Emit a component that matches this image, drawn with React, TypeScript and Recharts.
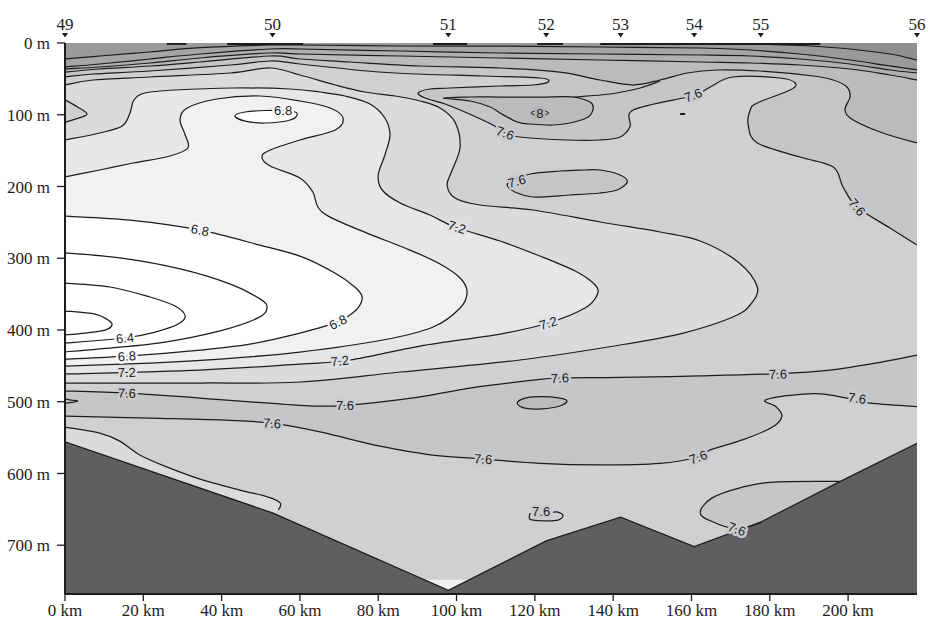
import React from "react";
import { ScatterChart, Scatter, XAxis, YAxis } from "recharts";

type Pt = [number, number]; // [distance km, depth m]
type XY = { x: number; y: number };

const KM_MAX = 217.6;
const DEPTH_MAX = 768;

const stationKm = [0, 53, 97.9, 122.9, 141.9, 160.7, 177.7, 217.6];
const stationNames = ["49", "50", "51", "52", "53", "54", "55", "56"];
const kmTicks = [0, 20, 40, 60, 80, 100, 120, 140, 160, 180, 200];
const depthTicks = [0, 100, 200, 300, 400, 500, 600, 700];

// bottom profile
const seafloor: Pt[] = [[0, 556], [53, 655], [97.9, 763], [122.9, 694], [141.9, 661], [160.7, 702], [178, 667], [198, 611], [217.6, 558]];

// near-surface isotherms
const iso86: Pt[] = [[217.6, 23.7], [210.7, 15.3], [200.5, 8.4], [190.3, 4.2], [180.1, 2.1], [169.9, 0]];
const iso84: Pt[] = [[0, 22.3], [8.9, 18.1], [21.7, 12.5], [34.5, 6.6], [52.4, 2.8], [60, 2.8], [85.6, 4.2], [111.1, 4.2], [136.7, 5.6], [162.2, 7], [175, 9.8], [187.7, 15.3], [200.5, 23.7], [210.7, 32.1], [217.6, 37.6]];
const iso82: Pt[] = [[0, 33.5], [8.9, 29.3], [21.7, 22.3], [34.5, 15.3], [52.4, 8.4], [60, 8.4], [85.6, 11.2], [111.1, 13.9], [136.7, 15.3], [162.2, 16.7], [175, 18.1], [187.7, 22.3], [200.5, 29.3], [210.7, 37.6], [217.6, 41.8]];
const iso80: Pt[] = [[0, 36.2], [8.9, 33.5], [21.7, 27.9], [34.5, 20.9], [52.4, 13.9], [60, 15.3], [85.6, 18.1], [111.1, 20.9], [136.7, 23.7], [162.2, 26.5], [175, 27.9], [187.7, 30.7], [200.5, 36.2], [210.7, 44.6], [217.6, 51.6]];
const iso78: Pt[] = [[217.6, 139.4], [208.9, 125.5], [201.3, 107.3], [199.2, 93.4], [200.5, 75.3], [199.7, 61.3], [196.2, 51.6], [191.1, 46], [177.5, 39], [166.5, 37.6], [158.9, 41.8], [152, 51.6], [145.1, 58.5], [136.7, 51.6], [126.4, 40.5], [111.1, 34.9], [90.7, 32.1], [72.8, 26.5], [60, 22.3], [52.4, 18.1], [34.5, 26.5], [21.7, 32.1], [8.9, 36.2], [0, 40.5]];
const iso78Loop: Pt[] = [[96.6, 76.7], [103.5, 75.3], [111.1, 75.3], [121.3, 75.3], [129.8, 75.3], [134.1, 82.3], [134.9, 90.6], [133.6, 103.1], [129, 111.5], [124.7, 114.3], [118.8, 112.9], [115.5, 110.1], [111.1, 97.6], [108.6, 89.2], [103.5, 80.9]];
const iso78Link: Pt[] = [[129.8, 75.3], [139.2, 71.1], [146.9, 62.7], [152, 53]];
const iso80Ring: Pt[] = [[119, 97.6], [121.3, 93.5], [123.6, 97.6], [121.3, 101.8]];
const iso76: Pt[] = [[217.6, 281.6], [210.7, 257.9], [202.3, 228.6], [198.7, 200.7], [196.2, 172.9], [187.7, 158.9], [176.8, 139.4], [174.5, 114.3], [175, 93.4], [176.8, 83.6], [185.2, 65.5], [186.5, 55.8], [182.6, 48.8], [170.6, 47.4], [164.8, 61.3], [160.4, 75.3], [157.9, 76.7], [145.1, 93.4], [144.3, 116.8], [141.8, 131], [136.7, 135.2], [128.2, 135.2], [116.2, 131], [112.4, 125.5], [109.3, 114.3], [102.7, 97.6], [97.1, 85], [92, 76.7], [90.2, 69.7], [93.2, 64.1], [98.3, 62.7], [111.1, 59.9], [119.5, 58.5], [123.4, 54.4], [121.3, 48.8], [106.8, 46], [89.9, 43.2], [77.1, 39], [60, 29.3], [52.4, 25.1], [42.2, 30.7], [21.7, 39], [7.2, 43.2], [0, 47.4]];
const iso76Patch: Pt[] = [[114.4, 190.9], [118.8, 182.6], [126.4, 178.4], [132.3, 177], [136.7, 177], [141.8, 184], [143.6, 193.8], [141, 204.9], [136.7, 209.1], [129, 211.9], [119.5, 214.7], [114.9, 207.7], [112.9, 197.9]];
const dash: Pt[] = [[157.1, 99], [158.4, 99]];

// cold core isotherms
const iso74: Pt[] = [[0, 58.5], [7.2, 51.6], [21.7, 47.4], [42.2, 41.8], [52.4, 34.9], [60, 44.6], [69, 58.5], [76.6, 68.3], [84.3, 73.9], [90.7, 80.9], [95.8, 90.6], [99.6, 110.2], [100.9, 145], [98.9, 177], [97.6, 197.9], [99.6, 216.1], [106, 225.8], [119.5, 232.8], [136.7, 249.5], [152, 263.5], [162.2, 276], [171.9, 305.3], [176.8, 340.1], [175, 365.2], [170.6, 381.9], [157.9, 404.3], [141.8, 421], [116.2, 441.9], [85.6, 458.6], [60, 472.5], [34.5, 473.9], [0, 473.9]];
const iso74Tongue: Pt[] = [[0, 79.1], [3.1, 88.8], [5.6, 98.6], [3.8, 104.1], [0, 110.4]];
const iso72: Pt[] = [[0, 135.2], [8.9, 125.5], [14.6, 115.7], [16.6, 97.6], [17.6, 79.5], [20.4, 69.7], [28.1, 65.5], [42.9, 62.7], [57.5, 64.1], [65.1, 68.3], [71.5, 73.9], [77.9, 85], [81.7, 104.6], [83, 128.2], [81.7, 156.1], [80, 184], [81, 204.9], [85.6, 223], [93.2, 239.8], [99.6, 256.5], [111.1, 276], [121.3, 296.9], [130.3, 317.8], [135.4, 337.3], [135.9, 351.3], [132.8, 369.4], [123.4, 390.3], [111.1, 405.7], [90.7, 422.4], [72.8, 441.9], [60, 447.5], [34.5, 455.9], [0, 461.4]];
const iso70: Pt[] = [[0, 186.8], [8.9, 177], [17.4, 167.3], [26.8, 157.5], [31.4, 146.4], [30.7, 128.2], [29.4, 107.3], [31.2, 90.6], [38.8, 78.1], [49.8, 73.9], [60, 80.9], [67.7, 90.6], [71, 104.5], [69, 121.3], [60, 135.2], [52.4, 149.2], [50.3, 158.9], [52.4, 171.5], [60, 188.2], [63.3, 207.7], [64.6, 228.6], [67.7, 242.6], [77.1, 264.9], [88.1, 288.6], [95.8, 308.1], [100.9, 327.6], [102.7, 347.1], [100.9, 369.4], [94, 395.9], [81.2, 414], [60, 430.8], [39.6, 440.6], [21.7, 446.1], [0, 450.3]];
const iso68: Pt[] = [[0, 241.4], [16.6, 247], [34.5, 260.9], [49.8, 281.8], [60, 297.1], [69, 320.8], [74.1, 340.4], [75.9, 354.3], [74.8, 369.6], [72, 382.2], [69.7, 389.1], [60, 404.5], [47.2, 419.8], [34.5, 428.2], [15.8, 436.5], [0, 440.7]];
const iso68Loop: Pt[] = [[43.4, 101.8], [46, 96.2], [51.1, 94.1], [57.5, 94.8], [59.3, 99], [57.5, 107.3], [51.1, 111.5], [46, 108.8]];
const iso66: Pt[] = [[0, 292.5], [14, 299.5], [29.4, 314.8], [42.1, 335.8], [49.8, 356.7], [51.6, 369.2], [49.3, 383.1], [39.6, 401.2], [24.3, 417.9], [8.9, 426.3], [0, 430.5]];
const iso64: Pt[] = [[0, 334.6], [11.5, 340.1], [21.7, 354.1], [28.1, 366.6], [30.7, 380.5], [28.9, 391.7], [23, 402.9], [15.3, 411.2], [0, 418.2]];
const iso62: Pt[] = [[0, 373.6], [7.7, 377.8], [11, 386.1], [12, 393.1], [10.2, 400.1], [5.1, 404.3], [0, 407]];

// deep warm layer
const deep76Top: Pt[] = [[0, 485], [15.8, 488], [34.5, 495], [60, 505], [71.5, 505], [89.9, 494], [103.4, 481], [119.5, 470], [126.4, 467], [141.8, 466], [162.2, 464], [182.1, 461], [195.4, 456], [208.2, 445], [217.6, 435]];
const deep76Bottom: Pt[] = [[0, 520], [21.7, 523], [42.1, 526], [52.9, 530], [65.1, 542], [80.5, 562], [93.3, 574], [106.8, 580], [121.3, 586], [136.7, 588], [152, 586], [161.7, 577], [164.8, 567], [173.2, 553], [180.8, 535], [183.1, 520], [181.6, 507], [178.8, 498], [185.2, 491], [192.9, 489], [199.7, 495], [205.6, 502], [217.6, 507]];
const deep78Lens: Pt[] = [[115.5, 502], [117.5, 495], [121.8, 493], [126.4, 495], [128.2, 499], [126.4, 506], [121.8, 510], [117.5, 509]];
const deepBump: Pt[] = [[0, 496], [1.8, 497.7], [3.3, 499], [1.8, 501], [0, 502]];

// near the bottom
const slope74: Pt[] = [[0, 535.3], [8.9, 543.7], [14, 554.9], [19.2, 574.5], [26.8, 592.6], [34.5, 607.9], [44.7, 623.2], [51.9, 632.9], [55, 641.3], [54.5, 651.1]];
const slope74Under: Pt[] = [[50, 668], [0, 566]];
const bottom76: Pt[] = [[198, 611], [180.8, 612], [172.4, 620], [165.3, 634], [162.2, 654], [164.8, 666], [171.6, 677.5], [178, 668]];
const bottom76Under: Pt[] = [[186, 672], [199, 628]];
const hook76: Pt[] = [[118.8, 655], [118.8, 664], [122.6, 666], [125.9, 665], [127.2, 659], [125.9, 654], [124.6, 654]];
const trough68: Pt[] = [[92, 748], [103, 748], [103, DEPTH_MAX], [92, DEPTH_MAX]];

// contour pieces lying along the sea surface [from km, to km]
const surfaceRuns: Pt[] = [[26, 31], [41.4, 60.8], [94, 102.7], [120.6, 127.2], [136.7, 192.9]];

// contour labels: [km, depth, text, tilt]
const labels: [number, number, string, number][] = [
  [55.7, 94.5, "6.8", 0], [121.3, 97.6, "8", 0], [112.4, 125.5, "7.6", 20], [160.4, 72.5, "7.6", -20],
  [115.4, 192.4, "7.6", -15], [202.3, 228.6, "7.6", 50], [34.5, 260.7, "6.8", 10], [100.1, 256.5, "7.2", 18],
  [69.7, 389, "6.8", -25], [123.4, 390.3, "7.2", -17], [15.3, 411.2, "6.4", -6], [15.8, 436.3, "6.8", -3],
  [70.2, 443, "7.2", -6], [15.8, 459, "7.2", -2], [15.8, 488, "7.6", 2], [71.5, 504.6, "7.6", 0],
  [126.4, 467, "7.6", -3], [182.1, 461.4, "7.6", -2], [202.3, 494.9, "7.6", 8], [52.9, 529.8, "7.6", 4],
  [106.8, 579.9, "7.6", 4], [161.7, 577.1, "7.6", -20], [121.6, 652.4, "7.6", 0], [171.6, 677.5, "7.6", 20],
];

const C = {
  c86: "#8e8f91", c84: "#999a9c", c82: "#a4a5a7", c80: "#afb0b2", c78: "#babbbd", c76: "#c5c6c8",
  c74: "#cfd0d2", c72: "#dadbdd", c70: "#e6e7e9", c68: "#f0f1f3", cold: "#ffffff", floor: "#5f5f61",
};
const INK = "#1c1c1c";
const SERIF = "'Liberation Serif', 'Times New Roman', serif";
const SANS = "'Liberation Sans', Arial, sans-serif";
const AXIS_FONT = 17;

const rows = (pts: Pt[]) => pts.map(([km, m]) => ({ km, m }));
const f = (v: number) => v.toFixed(1);

function spline(p: XY[], closed: boolean, start: string) {
  const n = p.length;
  const at = (i: number) => (closed ? p[(i + n) % n] : p[Math.min(n - 1, Math.max(0, i))]);
  let d = `${start}${f(p[0].x)},${f(p[0].y)}`;
  const segs = closed ? n : n - 1;
  for (let i = 0; i < segs; i++) {
    const a = at(i - 1), b = at(i), c = at(i + 1), e = at(i + 2);
    d += `C${f(b.x + (c.x - a.x) / 6)},${f(b.y + (c.y - a.y) / 6)},${f(c.x - (e.x - b.x) / 6)},${f(c.y - (e.y - b.y) / 6)},${f(c.x)},${f(c.y)}`;
  }
  return closed ? d + "Z" : d;
}

// smooth runs of contour points, anything after them joined with straight edges
const filled = (runs: number[], fill: string, straight = false) => (props: any) => {
  const pts: XY[] = props.points;
  let d = "";
  let i = 0;
  runs.forEach((n, k) => {
    const run = pts.slice(i, i + n);
    i += n;
    if (straight || run.length < 3) {
      d += run.map((p, j) => `${k === 0 && j === 0 ? "M" : "L"}${f(p.x)},${f(p.y)}`).join("");
    } else {
      d += spline(run, false, k === 0 ? "M" : "L");
    }
  });
  d += pts.slice(i).map((p) => `L${f(p.x)},${f(p.y)}`).join("") + "Z";
  return <path d={d} fill={fill} stroke="none" />;
};

const loopFill = (fill: string) => (props: any) => (
  <path d={spline(props.points, true, "M")} fill={fill} stroke="none" />
);

const contour = (closed = false, width = 1.25) => (props: any) => (
  <path d={spline(props.points, closed, "M")} fill="none" stroke={INK} strokeWidth={width} strokeLinejoin="round" />
);

const straightLine = (width: number) => (props: any) => (
  <path d={props.points.map((p: XY, j: number) => `${j ? "L" : "M"}${f(p.x)},${f(p.y)}`).join("")} fill="none" stroke={INK} strokeWidth={width} />
);

const noDot = () => <g />;

const haloFor = (t: string) =>
  t === "8" ? "#b4b5b7" : t === "7.6" ? "#cacbcd" : t === "7.2" ? "#e0e1e3" : t === "6.8" ? "#f8f8f9" : "#ffffff";

const tagShape = (props: any) => {
  const { cx, cy, payload } = props;
  return (
    <text
      x={cx}
      y={cy}
      dy="0.36em"
      textAnchor="middle"
      transform={`rotate(${payload.tilt} ${cx} ${cy})`}
      fontFamily={SANS}
      fontSize={13}
      fill={INK}
      stroke={haloFor(payload.text)}
      strokeWidth={5}
      strokeLinejoin="round"
      paintOrder="stroke"
    >
      {payload.text}
    </text>
  );
};

const StationTick = (props: any) => {
  const { x, y, payload } = props;
  const name = stationNames[stationKm.indexOf(payload.value)];
  return (
    <g>
      <text x={x} y={y - 13} textAnchor="middle" fontFamily={SERIF} fontSize={AXIS_FONT} fill={INK}>
        {name}
      </text>
      <path d={`M${x - 3},${y - 10}L${x + 3},${y - 10}L${x},${y - 5.5}Z`} fill={INK} />
    </g>
  );
};

const DepthTick = (props: any) => {
  const { x, y, payload } = props;
  return (
    <text x={x} y={y} dy="0.36em" textAnchor="end" fontFamily={SERIF} fontSize={AXIS_FONT} fill={INK}>
      {`${payload.value} m`}
    </text>
  );
};

const DistanceTick = (props: any) => {
  const { x, y, payload } = props;
  return (
    <text x={x} y={y} dy="0.78em" textAnchor="middle" fontFamily={SERIF} fontSize={AXIS_FONT} fill={INK}>
      {`${payload.value} km`}
    </text>
  );
};

function series(key: string, pts: Pt[], line: any) {
  return (
    <Scatter key={key} data={rows(pts)} line={line} shape={noDot} isAnimationActive={false} legendType="none" />
  );
}

const top: Pt[] = [[0, 0], [KM_MAX, 0]];
const topRev: Pt[] = [[KM_MAX, 0], [0, 0]];

export default function App() {
  const layers: [string, Pt[], any][] = [
    ["bg", [[0, 0], [KM_MAX, 0], [KM_MAX, DEPTH_MAX], [0, DEPTH_MAX]], filled([4], C.c74, true)],
    ["f76", [...iso76, ...top], filled([iso76.length], C.c76)],
    ["f78", [...iso78, ...top], filled([iso78.length], C.c78)],
    ["f80", [...iso80, ...topRev], filled([iso80.length], C.c80)],
    ["f82", [...iso82, ...topRev], filled([iso82.length], C.c82)],
    ["f84", [...iso84, ...topRev], filled([iso84.length], C.c84)],
    ["f86", [...iso86, [KM_MAX, 0]], filled([iso86.length], C.c86)],
    ["f78loop", iso78Loop, loopFill(C.c78)],
    ["f80ring", iso80Ring, loopFill(C.c80)],
    ["f76patch", iso76Patch, loopFill(C.c76)],
    ["f74", iso74, filled([iso74.length], C.c72)],
    ["f74tongue", iso74Tongue, filled([iso74Tongue.length], C.c74)],
    ["f72", iso72, filled([iso72.length], C.c70)],
    ["f70", iso70, filled([iso70.length], C.c68)],
    ["f68", iso68, filled([iso68.length], C.cold)],
    ["f68loop", iso68Loop, loopFill(C.cold)],
    ["fdeep", [...deep76Top, ...[...deep76Bottom].reverse()], filled([deep76Top.length, deep76Bottom.length], C.c76)],
    ["fdeep78", deep78Lens, loopFill(C.c78)],
    ["fslope", [...slope74, ...slope74Under], filled([slope74.length], C.c72)],
    ["fbottom76", [...bottom76, ...bottom76Under], filled([bottom76.length], C.c76)],
    ["ftrough", trough68, filled([4], C.c68, true)],
    ["ffloor", [...seafloor, [KM_MAX, DEPTH_MAX], [0, DEPTH_MAX]], filled([seafloor.length + 2], C.floor, true)],
  ];

  const lines: [string, Pt[], any][] = [
    ["l86", iso86, contour()],
    ["l84", iso84, contour()],
    ["l82", iso82, contour()],
    ["l80", iso80, contour()],
    ["l78", iso78, contour()],
    ["l78loop", iso78Loop, contour(true)],
    ["l78link", iso78Link, contour()],
    ["l80ring", iso80Ring, contour(true, 1)],
    ["l76", iso76, contour()],
    ["l76patch", iso76Patch, contour(true)],
    ["ldash", dash, straightLine(2)],
    ["l74", iso74, contour()],
    ["l74tongue", iso74Tongue, contour()],
    ["l72", iso72, contour()],
    ["l70", iso70, contour()],
    ["l68", iso68, contour()],
    ["l68loop", iso68Loop, contour(true)],
    ["l66", iso66, contour()],
    ["l64", iso64, contour()],
    ["l62", iso62, contour()],
    ["ldeepTop", deep76Top, contour()],
    ["ldeepBottom", deep76Bottom, contour()],
    ["ldeep78", deep78Lens, contour(true)],
    ["lbump", deepBump, contour()],
    ["lslope", slope74, contour()],
    ["lbottom76", bottom76, contour()],
    ["lhook", hook76, contour()],
    ["lfloor", seafloor, straightLine(1.2)],
    ...surfaceRuns.map(([a, b], i) => [`ls${i}`, [[a, 1.2], [b, 1.2]] as Pt[], straightLine(2)] as [string, Pt[], any]),
  ];

  const tags = labels.map(([km, m, text, tilt]) => ({ km, m, text, tilt }));

  return (
    <div style={{ position: "absolute", left: 0, top: 0, width: 928, height: 625, background: "#fff" }}>
      <ScatterChart width={928} height={625} margin={{ top: 0, right: 1, bottom: 1, left: 0 }}>
        <XAxis
          type="number"
          dataKey="km"
          domain={[0, KM_MAX]}
          allowDataOverflow
          ticks={kmTicks}
          interval={0}
          height={30}
          axisLine={{ stroke: INK, strokeWidth: 2 }}
          tickLine={{ stroke: INK, strokeWidth: 1.3 }}
          tickSize={7}
          tickMargin={2}
          tick={DistanceTick}
        />
        <XAxis
          xAxisId="top"
          orientation="top"
          type="number"
          dataKey="km"
          domain={[0, KM_MAX]}
          allowDataOverflow
          ticks={stationKm}
          interval={0}
          height={43}
          axisLine={false}
          tickLine={false}
          tickSize={0}
          tickMargin={0}
          tick={StationTick}
        />
        <YAxis
          type="number"
          dataKey="m"
          reversed
          domain={[0, DEPTH_MAX]}
          allowDataOverflow
          ticks={depthTicks}
          interval={0}
          width={65}
          axisLine={{ stroke: INK, strokeWidth: 2 }}
          tickLine={{ stroke: INK, strokeWidth: 1.3 }}
          tickSize={8}
          tickMargin={7}
          tick={DepthTick}
        />
        <YAxis
          yAxisId="right"
          orientation="right"
          type="number"
          dataKey="m"
          reversed
          domain={[0, DEPTH_MAX]}
          allowDataOverflow
          ticks={depthTicks}
          interval={0}
          width={10}
          axisLine={false}
          tickLine={{ stroke: INK, strokeWidth: 1.3 }}
          tickSize={8}
          tick={false}
        />
        {layers.map(([k, pts, shape]) => series(k, pts, shape))}
        {lines.map(([k, pts, shape]) => series(k, pts, shape))}
        {series("frame", [[0, 0], [0, DEPTH_MAX], [KM_MAX, DEPTH_MAX]], straightLine(2))}
        <Scatter data={tags} shape={tagShape} isAnimationActive={false} legendType="none" />
      </ScatterChart>
    </div>
  );
}
